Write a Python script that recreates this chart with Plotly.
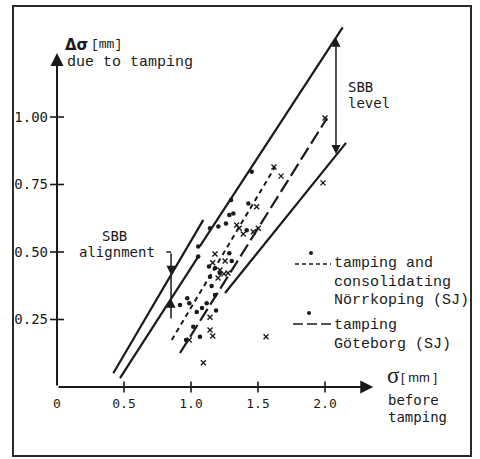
import numpy as np
import plotly.graph_objects as go

# ---------------- data ----------------
# tamping measurements: dots
dots_x = [1.054, 1.054, 1.134, 1.179, 0.918, 0.972, 0.987, 1.117, 1.043, 1.082,
          1.187, 1.154, 1.179, 1.067, 0.963, 1.017, 1.216, 1.286, 1.304, 1.453,
          1.299, 1.428, 1.286, 1.316, 1.261, 1.204, 1.142, 1.416, 1.142]
dots_y = [0.520, 0.483, 0.446, 0.440, 0.304, 0.329, 0.310, 0.310, 0.278, 0.293,
          0.283, 0.374, 0.341, 0.186, 0.174, 0.223, 0.421, 0.495, 0.467, 0.797,
          0.693, 0.680, 0.637, 0.643, 0.606, 0.594, 0.588, 0.581, 0.408]

# tamping measurements: crosses
cross_x = [1.179, 1.162, 1.254, 1.216, 1.246, 1.202, 1.276, 1.142, 1.142, 1.162,
           1.092, 0.987, 1.619, 1.672, 1.490, 1.341, 1.360, 1.390, 1.465, 1.502,
           1.560, 1.985, 2.000]
cross_y = [0.493, 0.460, 0.467, 0.433, 0.419, 0.404, 0.422, 0.258, 0.211, 0.189,
           0.090, 0.174, 0.815, 0.781, 0.668, 0.600, 0.588, 0.567, 0.575, 0.588,
           0.186, 0.756, 0.996]

# envelope / regression lines (end points)
align_upper_x = [0.420, 1.092]
align_upper_y = [0.051, 0.619]
align_lower_x = [0.470, 1.054]
align_lower_y = [0.033, 0.483]
level_upper_x = [1.067, 2.132]
level_upper_y = [0.522, 1.332]
level_lower_x = [1.254, 2.157]
level_lower_y = [0.348, 0.904]
norrkoping_x = [0.856, 1.627]
norrkoping_y = [0.174, 0.815]
goteborg_x = [0.918, 2.015]
goteborg_y = [0.126, 0.996]

x_tick_vals = [0, 0.5, 1.0, 1.5, 2.0]
x_tick_text = ["0", "0.5", "1.0", "1.5", "2.0"]
y_tick_vals = [0.25, 0.50, 0.75, 1.00]
y_tick_text = ["0.25", "0.50", "0.75", "1.00"]

# ---------------- layout constants ----------------
W, H = 480, 459
X0, X1 = -57 / 134, (W - 57) / 134
Y0, Y1 = (387 - H) / 270, 387 / 270
X_AXIS_END = 2.36
Y_AXIS_END = 1.237
INK = "#1a1a1a"
MONO = "Liberation Mono"
OCR = "DejaVu Sans Mono"


def pp(px, py):
    return px / W, 1 - py / H


fig = go.Figure()

solid = dict(color=INK, width=2.2)
for lx, ly in [(align_upper_x, align_upper_y), (align_lower_x, align_lower_y),
               (level_upper_x, level_upper_y), (level_lower_x, level_lower_y)]:
    fig.add_trace(go.Scatter(x=lx, y=ly, mode="lines", line=solid,
                             hoverinfo="skip", showlegend=False))

fig.add_trace(go.Scatter(x=norrkoping_x, y=norrkoping_y, mode="lines",
                         line=dict(color=INK, width=2, dash="5px,4px"),
                         showlegend=False))
fig.add_trace(go.Scatter(x=goteborg_x, y=goteborg_y, mode="lines",
                         line=dict(color=INK, width=2.2, dash="14px,5px"),
                         showlegend=False))

fig.add_trace(go.Scatter(x=dots_x, y=dots_y, mode="markers",
                         marker=dict(symbol="circle", size=4.5, color=INK),
                         showlegend=False))
fig.add_trace(go.Scatter(x=cross_x, y=cross_y, mode="markers",
                         marker=dict(symbol="x-thin", size=5,
                                     line=dict(color=INK, width=1.4)),
                         showlegend=False))

# tick marks crossing the axes
fig.add_trace(go.Scatter(x=x_tick_vals[1:], y=[0] * 4, mode="markers",
                         marker=dict(symbol="line-ns", size=8,
                                     line=dict(color=INK, width=1.6)),
                         showlegend=False, hoverinfo="skip"))
fig.add_trace(go.Scatter(x=[0] * 4, y=y_tick_vals, mode="markers",
                         marker=dict(symbol="line-ew", size=10,
                                     line=dict(color=INK, width=1.6)),
                         showlegend=False, hoverinfo="skip"))

ann = []

# axes with arrow heads
for hx, hy in [(0, Y_AXIS_END), (X_AXIS_END, 0)]:
    ann.append(dict(x=hx, y=hy, ax=0, ay=0, xref="x", yref="y", axref="x",
                    ayref="y", text="", showarrow=True, arrowhead=2,
                    arrowsize=1.3, arrowwidth=2, arrowcolor=INK, standoff=0))

# SBB level double arrow
lvl_x = 2.082
lvl_top = float(np.interp(lvl_x, level_upper_x, level_upper_y))
lvl_bot = float(np.interp(lvl_x, level_lower_x, level_lower_y))
ann.append(dict(x=lvl_x, y=lvl_top, ax=lvl_x, ay=lvl_bot, xref="x", yref="y",
                axref="x", ayref="y", text="", showarrow=True, arrowhead=2,
                arrowside="end+start", arrowsize=1.2, arrowwidth=1.5,
                arrowcolor=INK, standoff=0, startstandoff=0, startarrowhead=2,
                startarrowsize=1.2))

# SBB alignment arrows
al_x = 0.851
al_a = float(np.interp(al_x, align_upper_x, align_upper_y))
al_b = float(np.interp(al_x, align_lower_x, align_lower_y))
al_top, al_bottom = 0.5, 0.248
ann.append(dict(x=al_x, y=al_a, ax=al_x, ay=al_top, xref="x", yref="y",
                axref="x", ayref="y", text="", showarrow=True, arrowhead=2,
                arrowsize=1.2, arrowwidth=1.5, arrowcolor=INK, standoff=0))
ann.append(dict(x=al_x, y=al_b, ax=al_x, ay=al_bottom, xref="x", yref="y",
                axref="x", ayref="y", text="", showarrow=True, arrowhead=2,
                arrowsize=1.2, arrowwidth=1.5, arrowcolor=INK, standoff=0))


def text(px, py, s, size, family, xanchor="left"):
    x, y = pp(px, py)
    ann.append(dict(x=x, y=y, xref="paper", yref="paper", text=s,
                    showarrow=False, xanchor=xanchor, yanchor="middle",
                    font=dict(family=family, size=size, color=INK)))


text(63, 45, "<b>Δσ</b>", 15, "DejaVu Sans")
text(89, 45, "[mm]", 13, MONO)
text(65, 62, "due to tamping", 15, MONO)
text(346, 87, "SBB", 14, OCR)
text(346, 103, "level", 14, OCR)
text(114, 236, "SBB", 14, OCR, "center")
text(117, 252, "alignment", 14, OCR, "center")
text(332, 263, "tamping and", 15, MONO)
text(332, 282, "consolidating", 15, MONO)
text(332, 300, "Nörrkoping (SJ)", 15, MONO)
text(332, 325, "tamping", 15, MONO)
text(332, 344, "Göteborg (SJ)", 15, MONO)
text(385, 375, "σ", 23, "Liberation Serif")
text(399, 377, "[&nbsp;mm&nbsp;]", 13, "Liberation Sans")
text(386, 400, "before", 14, OCR)
text(386, 417, "tamping", 14, OCR)

shapes = []
fx0, fy0 = pp(13, 456)
fx1, fy1 = pp(471, 6)
shapes.append(dict(type="rect", xref="paper", yref="paper", x0=fx0, y0=fy0,
                   x1=fx1, y1=fy1, line=dict(color="#2a2a2a", width=2)))
# alignment arrow connecting stem + top tick
shapes.append(dict(type="line", xref="x", yref="y", x0=al_x, x1=al_x,
                   y0=al_b, y1=al_a, line=dict(color=INK, width=1.5)))
shapes.append(dict(type="line", xref="x", yref="y", x0=al_x - 0.035, x1=al_x,
                   y0=al_top, y1=al_top, line=dict(color=INK, width=1.5)))

# legend glyphs
for (ax0, ay0, ax1, dash, dpx, dpy) in [(295, 264, 331, "4px,3px", 311, 253),
                                        (293, 324, 331, "10px,4px", 309, 313)]:
    a, b = pp(ax0, ay0)
    c, _ = pp(ax1, ay0)
    shapes.append(dict(type="line", xref="paper", yref="paper", x0=a, x1=c,
                       y0=b, y1=b, line=dict(color=INK, width=1.5, dash=dash)))
    d0x, d0y = pp(dpx - 2, dpy + 2)
    d1x, d1y = pp(dpx + 2, dpy - 2)
    shapes.append(dict(type="circle", xref="paper", yref="paper", x0=d0x,
                       y0=d0y, x1=d1x, y1=d1y, fillcolor=INK,
                       line=dict(color=INK, width=0)))

fig.update_layout(
    width=W, height=H, margin=dict(l=0, r=0, t=0, b=0),
    paper_bgcolor="white", plot_bgcolor="white",
    annotations=ann, shapes=shapes, showlegend=False,
    xaxis=dict(range=[X0, X1], domain=[0, 1], anchor="free",
               position=(0 - Y0) / (Y1 - Y0), showgrid=False, zeroline=False,
               showline=False, ticks="", tickvals=x_tick_vals,
               ticktext=x_tick_text, ticklabelstandoff=7, automargin=False,
               tickfont=dict(family=OCR, size=13, color=INK)),
    yaxis=dict(range=[Y0, Y1], domain=[0, 1], anchor="free",
               position=(0 - X0) / (X1 - X0), showgrid=False, zeroline=False,
               showline=False, ticks="", tickvals=y_tick_vals,
               ticktext=y_tick_text, ticklabelstandoff=9, automargin=False,
               tickfont=dict(family=OCR, size=14, color=INK)),
)

fig.write_html(
    "out.html",
    config={"displayModeBar": False},
    post_script="document.body.style.margin='0';document.body.style.padding='0';",
)
